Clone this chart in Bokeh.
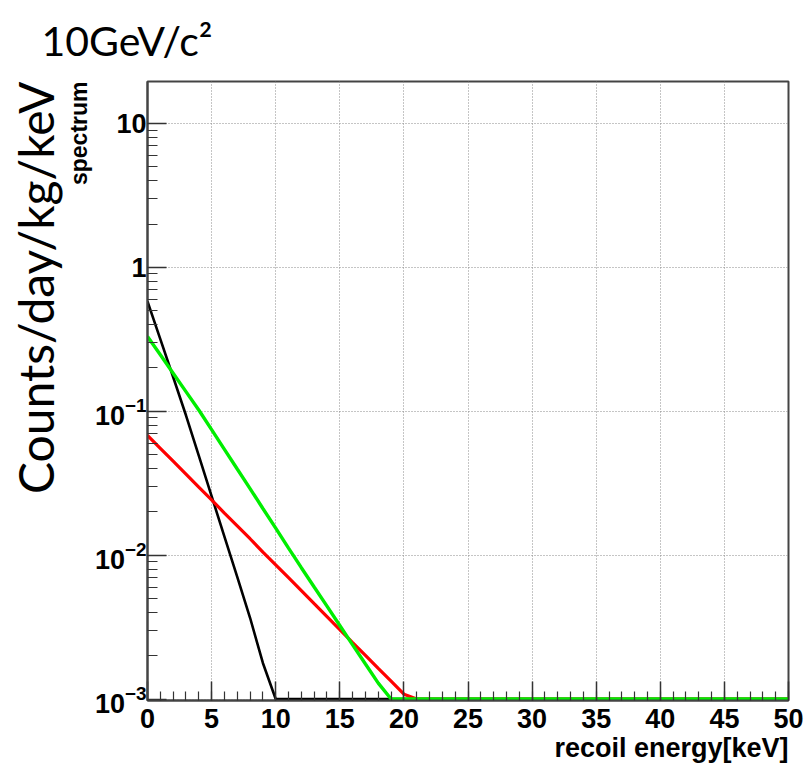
import numpy as np
from bokeh.plotting import figure
from bokeh.models import ColumnDataSource, FixedTicker, LogTickFormatter, Range1d, Title
from bokeh.embed import file_html
from bokeh.resources import INLINE

# Recoil-energy spectra (counts/day/kg/keV), one value per keV bin
energy = list(range(0, 51))
black = [0.581, 0.317, 0.173, 0.0938, 0.0491, 0.0257, 0.01346, 0.00705, 0.00367, 0.00178,
         0.00083] + [0.0] * 40
red = [0.068, 0.0553, 0.0450, 0.0366, 0.0297, 0.0242, 0.0196, 0.0160, 0.0130, 0.0105,
       0.00857, 0.00697, 0.00566, 0.00460, 0.00374, 0.00304, 0.00247, 0.00201, 0.00163, 0.00133,
       0.00108, 0.00088] + [0.0] * 29
green = [0.331, 0.247, 0.184, 0.137, 0.102, 0.0746, 0.0544, 0.0397, 0.0290, 0.0211,
         0.0154, 0.0112, 0.00818, 0.00601, 0.00442, 0.00324, 0.00238, 0.00175, 0.00129, 0.00094] + [0.0] * 31

# Axis ticks; decades 1 and 10 are written out plainly
x_major = [0, 5, 10, 15, 20, 25, 30, 35, 40, 45, 50]
y_major = [1e-3, 1e-2, 1e-1, 1.0, 10.0]
y_plain_labels = {1.0: "1", 10.0: "10"}

Y_FLOOR = 1e-3            # values below the axis minimum sit on the floor
Y_START = 10 ** (-3 - 1.5 / 144)
Y_END = 19.6

p = figure(width=808, height=771, x_range=Range1d(0, 50), y_range=Range1d(Y_START, Y_END),
           y_axis_type="log", output_backend="svg", toolbar_location=None,
           min_border_left=147, min_border_right=20, min_border_top=81, min_border_bottom=71,
           background_fill_color="white", border_fill_color="white")

p.outline_line_color = "#444444"
p.outline_line_width = 2

BOLD = dict(text_font="Liberation Sans", text_font_style="bold", text_color="black")

# x axis
p.xaxis.ticker = FixedTicker(ticks=x_major, minor_ticks=list(range(0, 51)))
p.xaxis.major_tick_in = 19
p.xaxis.major_tick_out = 0
p.xaxis.minor_tick_in = 9
p.xaxis.minor_tick_out = 0
p.xaxis.major_label_standoff = 8

# y axis
y_minor = [m * d for d in [1e-3, 1e-2, 1e-1, 1.0, 10.0] for m in range(1, 10) if m * d <= Y_END]
p.yaxis.ticker = FixedTicker(ticks=y_major, minor_ticks=y_minor)
p.yaxis.formatter = LogTickFormatter()
p.yaxis.major_label_overrides = y_plain_labels
p.yaxis.major_tick_in = 19
p.yaxis.major_tick_out = 0
p.yaxis.minor_tick_in = 10
p.yaxis.minor_tick_out = 0
p.yaxis.major_label_standoff = 1

for ax in (p.xaxis, p.yaxis):
    ax.major_label_text_font = "Liberation Sans"
    ax.major_label_text_font_style = "bold"
    ax.major_label_text_font_size = "27px"
    ax.major_label_text_color = "black"
    ax.axis_line_color = "#444444"
    ax.axis_line_width = 2
    ax.major_tick_line_color = "#333333"
    ax.minor_tick_line_color = "#333333"
    ax.major_tick_line_width = 1.5
    ax.minor_tick_line_width = 1.2

p.xgrid.ticker = FixedTicker(ticks=x_major)
p.ygrid.ticker = FixedTicker(ticks=y_major)
for g in (p.xgrid, p.ygrid):
    g.grid_line_color = "#8a8a8a"
    g.grid_line_dash = "1 2"
    g.grid_line_width = 1

src = ColumnDataSource(dict(
    energy=energy,
    black=np.maximum(black, Y_FLOOR),
    red=np.maximum(red, Y_FLOOR),
    green=np.maximum(green, Y_FLOOR),
))
p.line("energy", "black", source=src, line_color="black", line_width=2.6)
p.line("energy", "red", source=src, line_color="#ff0000", line_width=3.2)
p.line("energy", "green", source=src, line_color="#00ee00", line_width=3.4)

# axis titles
p.add_layout(Title(text="recoil energy[keV]", align="right", text_font_size="27px",
                   standoff=0, **BOLD), "below")
p.add_layout(Title(text="spectrum", align="right", text_font_size="23px", standoff=0, **BOLD), "left")

# slide annotations
p.add_layout(Title(text="Counts/day/kg/keV", align="right", text_font="Lato", text_font_style="normal",
                   text_font_size="48px", text_color="black", standoff=0), "left")
p.add_layout(Title(text="10GeV/c\u00b2", align="left", vertical_align="top", offset=-106,
                   text_font="Lato", text_font_style="normal", text_font_size="41px",
                   text_color="black", standoff=29), "above")

open("out.html", "w").write(file_html(p, INLINE))
